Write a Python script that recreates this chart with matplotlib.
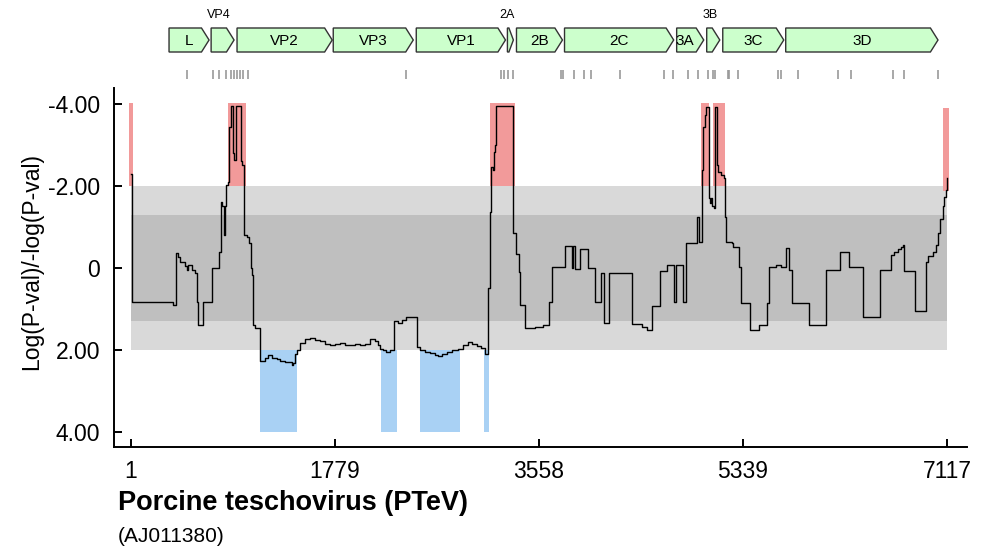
import matplotlib
matplotlib.use("Agg")
import matplotlib.pyplot as plt
from matplotlib.patches import Polygon

plt.rcParams['font.family'] = ['Liberation Sans', 'DejaVu Sans']

# genome map: gene name, start, end (nt)
gene_names = ["L", "VP4", "VP2", "VP3", "VP1", "2A", "2B", "2C", "3A", "3B", "3C", "3D"]
gene_start = [333, 700, 926, 1765, 2489, 3284, 3363, 3782, 4760, 5022, 5162, 5711]
gene_end = [682, 900, 1756, 2463, 3267, 3336, 3764, 4734, 4996, 5136, 5694, 7039]
label_above = ["VP4", "2A", "3B"]

# small grey marks under the genome map (nt)
site_marks = [490, 717, 769, 830, 874, 900, 926, 953, 979, 1023, 2402, 3232, 3258, 3293,
              3336, 3747, 3773, 3869, 3948, 4017, 4270, 4646, 4724, 4855, 4942, 5030,
              5073, 5091, 5204, 5213, 5292, 5641, 5668, 5816, 6165, 6279, 6646, 6742, 7039]

# scan line: position (nt) and value
pos = [1, 12, 368, 394, 411, 429, 472, 490, 499, 534, 560, 577, 586, 627, 706, 772, 784,
       796, 813, 822, 830, 845, 859, 874, 894, 903, 918, 959, 968, 990, 1011, 1034, 1046,
       1055, 1069, 1084, 1127, 1171, 1197, 1232, 1276, 1302, 1346, 1381, 1407, 1416, 1433,
       1451, 1477, 1520, 1564, 1608, 1651, 1695, 1739, 1782, 1826, 1870, 1913, 1957, 2001,
       2044, 2088, 2132, 2158, 2175, 2201, 2227, 2262, 2297, 2332, 2367, 2402, 2498, 2524,
       2568, 2612, 2655, 2682, 2717, 2760, 2804, 2856, 2900, 2944, 2978, 3022, 3057, 3092,
       3112, 3129, 3144, 3159, 3164, 3179, 3188, 3331, 3336, 3362, 3383, 3397, 3441, 3528,
       3598, 3645, 3674, 3788, 3843, 3854, 3872, 3921, 3985, 4052, 4096, 4125, 4169, 4373,
       4460, 4503, 4541, 4614, 4678, 4736, 4751, 4818, 4838, 4934, 4954, 4978, 4984, 4992,
       5004, 5013, 5042, 5050, 5062, 5071, 5085, 5094, 5114, 5120, 5143, 5173, 5181, 5193,
       5246, 5254, 5304, 5325, 5400, 5479, 5546, 5566, 5624, 5668, 5711, 5740, 5770, 5915,
       6060, 6183, 6264, 6381, 6535, 6628, 6654, 6687, 6715, 6735, 6744, 6837, 6933, 6948,
       6992, 7021, 7036, 7059, 7079, 7093, 7108, 7116, 7117]
val = [-2.3, 0.83, 0.9, -0.37, -0.27, -0.15, -0.05, 0.05, -0.07, 0.05, 0.12, 0.83, 1.39,
       0.82, 0.01, -0.4, -1.62, -1.5, -0.8, -1.5, -2.02, -2.1, -3.45, -3.95, -2.8, -2.63,
       -3.95, -2.6, -2.5, -0.8, -0.75, -0.6, 0.0, 0.17, 1.39, 1.47, 2.27, 2.2, 2.12, 2.2,
       2.22, 2.27, 2.29, 2.3, 2.37, 2.32, 2.1, 2.0, 1.83, 1.73, 1.71, 1.76, 1.78, 1.85, 1.88,
       1.85, 1.83, 1.88, 1.88, 1.85, 1.88, 1.85, 1.73, 1.78, 1.88, 1.98, 2.0, 2.05, 2.0,
       1.29, 1.34, 1.27, 1.2, 1.93, 2.0, 2.05, 2.07, 2.12, 2.15, 2.1, 2.05, 2.0, 1.98, 1.88,
       1.8, 1.85, 1.9, 1.95, 2.1, 0.5, -1.37, -2.47, -2.39, -2.84, -3.0, -3.95, -2.0, -0.85,
       -0.34, 0.09, 0.9, 1.46, 1.43, 1.4, 0.82, -0.02, -0.54, 0.0, -0.54, 0.02, -0.46, 0.0,
       0.82, 0.12, 1.35, 0.12, 1.37, 1.45, 1.51, 0.93, 0.07, -0.07, 0.82, -0.07, 0.82, -0.62,
       -1.25, -0.64, -1.41, -2.39, -3.45, -3.73, -3.93, -1.7, -1.59, -1.7, -1.5, -1.46, -3.93,
       -2.51, -2.35, -2.27, -2.2, -1.25, -0.64, -0.6, -0.52, -0.03, 0.86, 1.51, 1.39, 0.86,
       -0.03, -0.07, -0.03, -0.49, 0.05, 0.86, 1.39, 0.05, -0.4, -0.03, 1.19, 0.05, -0.32,
       -0.4, -0.45, -0.52, -0.56, 0.07, 1.05, -0.15, -0.28, -0.4, -0.55, -0.85, -1.2, -1.5,
       -1.72, -1.9, -2.2, -2.2]

# significant windows (nt)
red_start = [-16, 847, 3132, 4975, 5080, 7082]
red_end = [18, 1004, 3350, 5045, 5185, 7134]
blue_start = [1126, 2181, 2522, 3080]
blue_end = [1449, 2321, 2870, 3123]

xticks = [1, 1779, 3558, 5339, 7117]
yticks = [-4, -2, 0, 2, 4]
ytick_labels = ["-4.00", "-2.00", "0", "2.00", "4.00"]

W, H = 1002, 553
fig = plt.figure(figsize=(W / 100, H / 100), dpi=100)
ax = fig.add_axes([114 / W, 1 - 447 / H, 853 / W, 359 / H])
xmin, xmax = -147, 7292
ax.set_xlim(xmin, xmax)
ax.set_ylim(4.37, -4.39)

# background bands
ax.fill_between([1, 7117], -2, 2, color="#d9d9d9", lw=0, zorder=0)
ax.fill_between([1, 7117], -1.3, 1.3, color="#bfbfbf", lw=0, zorder=0)

for s, e in zip(red_start, red_end):
    if s == red_start[-1]:
        ax.fill_between([s, e], -1.88, -3.9, color="#f29a9a", lw=0, zorder=1)
    else:
        ax.fill_between([s, e], -2, -4.02, color="#f29a9a", lw=0, zorder=1)
for s, e in zip(blue_start, blue_end):
    ax.fill_between([s, e], 2, 4, color="#a9d1f4", lw=0, zorder=1)

ax.plot(pos, val, drawstyle="steps-post", color="black", lw=1.0, zorder=3)

for sp in ["top", "right"]:
    ax.spines[sp].set_visible(False)
ax.spines["left"].set_linewidth(1.4)
ax.spines["bottom"].set_linewidth(1.4)
ax.set_xticks(xticks)
ax.set_xticklabels([str(t) for t in xticks])
ax.set_yticks(yticks)
ax.set_yticklabels(ytick_labels)
ax.tick_params(direction="in", length=6, width=1.4, labelsize=16.5)
ax.tick_params(axis="x", pad=9)
ax.tick_params(axis="y", pad=10)

fig.text(32 / W, 1 - 262 / H, "Log(P-val)/-log(P-val)", rotation=90, fontsize=16.5,
         ha="center", va="center")
fig.text(118 / W, 1 - 503 / H, "Porcine teschovirus (PTeV)", fontsize=19.5,
         fontweight="bold", ha="left", va="center")
fig.text(118 / W, 1 - 537 / H, "(AJ011380)", fontsize=15, ha="left", va="center")

# genome map on top
axm = fig.add_axes([114 / W, 1 - 88 / H, 853 / W, 88 / H])
axm.set_xlim(xmin, xmax)
axm.set_ylim(88, 0)
axm.axis("off")
tip = 66
for name, s, e in zip(gene_names, gene_start, gene_end):
    t = min(tip, 0.75 * (e - s))
    pts = [(s, 28), (e - t, 28), (e, 40), (e - t, 52), (s, 52)]
    axm.add_patch(Polygon(pts, closed=True, facecolor="#ccffcc", edgecolor="#333333", lw=1))
    if name in label_above:
        axm.text((s + e) / 2 - 30, 15, name, fontsize=9, ha="center", va="center")
    elif name == "3A":
        axm.text((s + e) / 2 - 45, 41, name, fontsize=11, ha="center", va="center")
    else:
        axm.text((s + e) / 2, 41, name, fontsize=11, ha="center", va="center")
axm.vlines(site_marks, 70, 79, color="#999999", lw=1.2)

fig.savefig("out.png", dpi=100)
